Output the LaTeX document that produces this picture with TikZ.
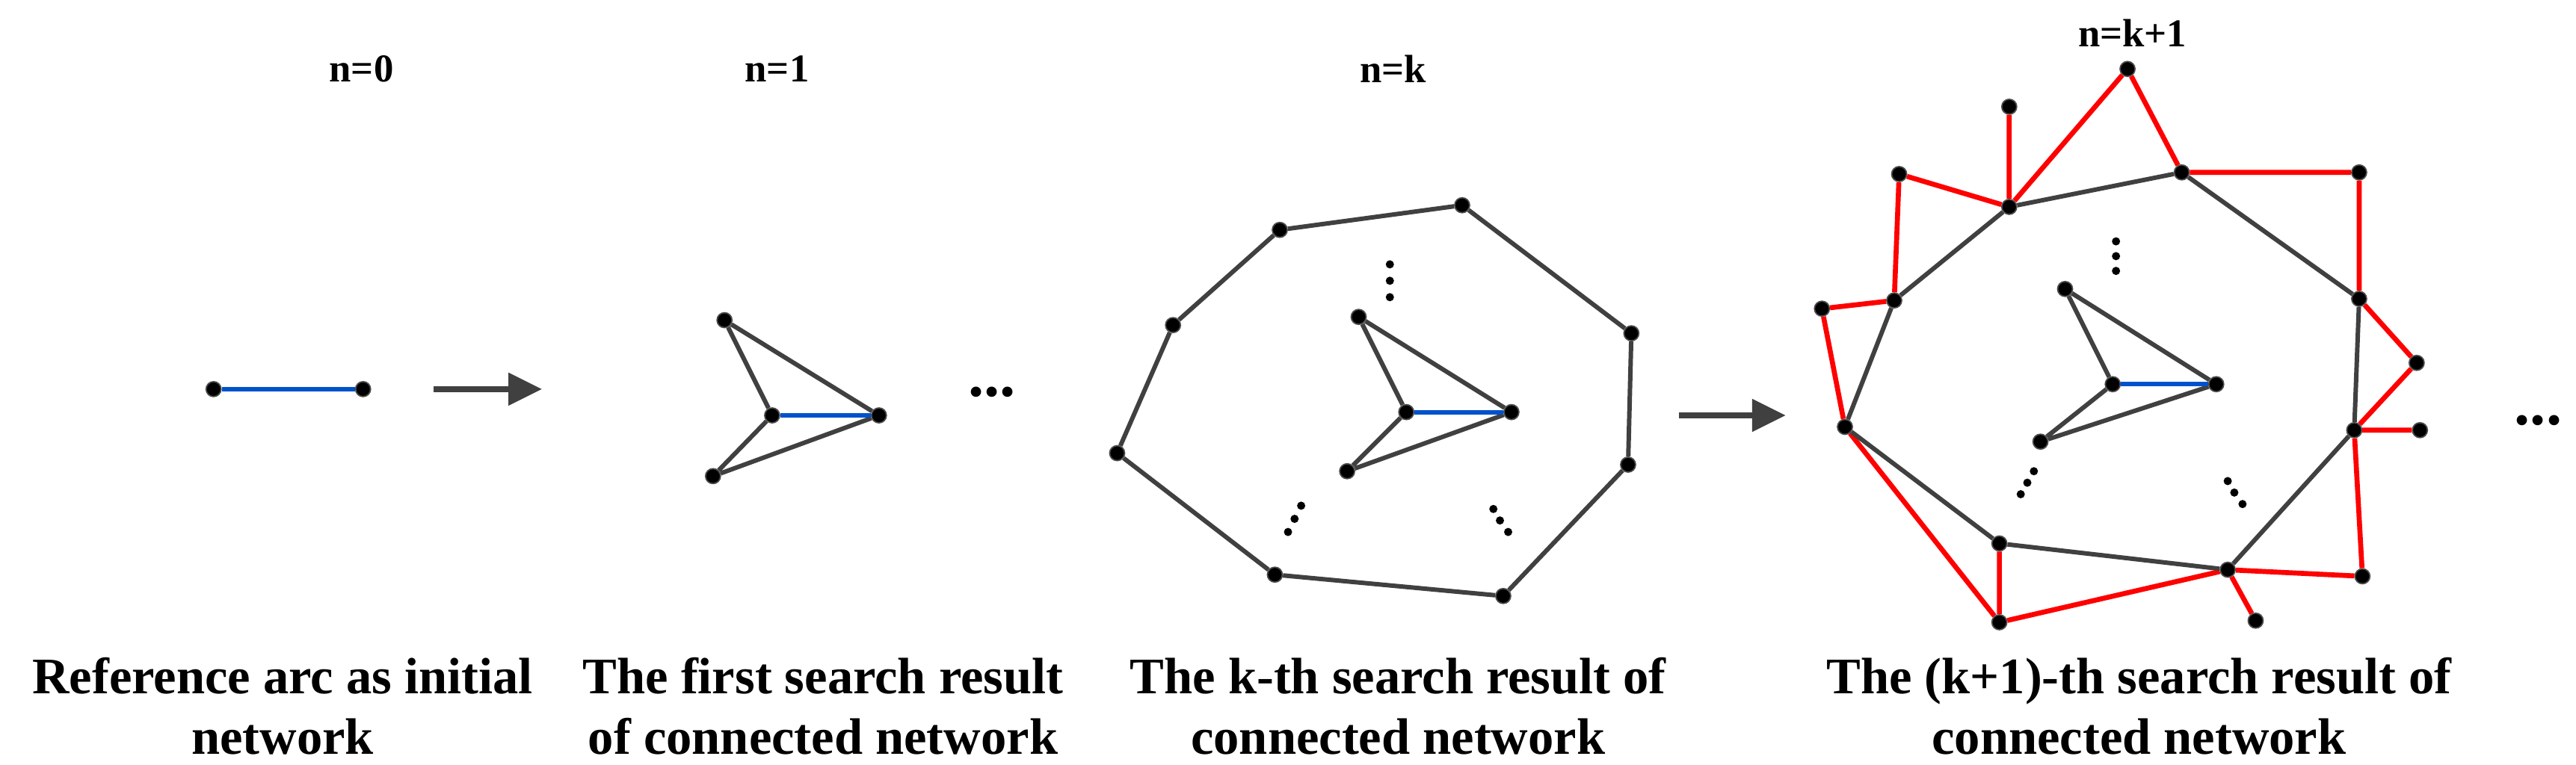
\documentclass[tikz,border=0pt]{standalone}
\usepackage{fontspec}
\setmainfont{Liberation Serif}
\usetikzlibrary{arrows.meta}
\begin{document}
\begin{tikzpicture}[x=0.021977cm,y=-0.021977cm,
  v/.style={circle,fill=black,draw=black!70,line width=0.5pt,inner sep=0pt,minimum size=0.2cm},
  g/.style={draw=black!75,line width=1.7pt},
  b/.style={draw=blue!60!cyan!80!black,line width=1.7pt},
  r/.style={draw=red,line width=1.9pt},
  d/.style={circle,fill=black,inner sep=0pt,minimum size=0.11cm},
  ttl/.style={font=\bfseries\fontsize{15}{18}\selectfont},
  lab/.style={font=\bfseries\fontsize{19.5}{23}\selectfont,align=center},
  arr/.style={draw=black!75,line width=2.4pt,-{Triangle[length=0.45cm,width=0.42cm]}}]
\useasboundingbox (0,0) rectangle (1568,465.5);
% titles
\node[ttl] (t0) at (220,42) {n=0};
\node[ttl] (t1) at (473,42) {n=1};
\node[ttl] (t2) at (848,42) {n=k};
\node[ttl] (t3) at (1298,20) {n=k+1};
% bottom labels
\node[lab] (l0) at (172,430) {Reference arc as initial\\network};
\node[lab] (l1) at (501,430) {The first search result\\of connected network};
\node[lab] (l2) at (851,430) {The k-th search result of\\connected network};
\node[lab] (l3) at (1302,430) {The (k+1)-th search result of\\connected network};
% n=0
\node[v] (a1) at (130,237) {};
\node[v] (a2) at (221,237) {};
\draw[b] (a1) -- (a2);
\coordinate (r1s) at (264,237); \coordinate (r1e) at (330,237);
\draw[arr] (r1s) -- (r1e);
% n=1
\node[v] (b1) at (441,195) {};
\node[v] (b2) at (470,253) {};
\node[v] (b3) at (535,253) {};
\node[v] (b4) at (434,290) {};
\draw[g] (b1) -- (b3) (b1) -- (b2) (b2) -- (b4) (b4) -- (b3);
\draw[b] (b2) -- (b3);
\node[font=\bfseries\fontsize{24}{24}\selectfont] (e1) at (604,239) {...};
% n=k
\node[v] (c1) at (714,198) {};
\node[v] (c2) at (779,140) {};
\node[v] (c3) at (890,125) {};
\node[v] (c4) at (993,203) {};
\node[v] (c5) at (991,283) {};
\node[v] (c6) at (915,363) {};
\node[v] (c7) at (776,350) {};
\node[v] (c8) at (680,276) {};
\draw[g] (c1)--(c2)--(c3)--(c4)--(c5)--(c6)--(c7)--(c8)--(c1);
\node[v] (ci1) at (827,193) {};
\node[v] (ci2) at (856,251) {};
\node[v] (ci3) at (920,251) {};
\node[v] (ci4) at (820,287) {};
\draw[g] (ci1) -- (ci3) (ci1) -- (ci2) (ci2) -- (ci4) (ci4) -- (ci3);
\draw[b] (ci2) -- (ci3);
\foreach \i/\x/\y in {1/846/161,2/846/171,3/846/181,4/792/308,5/788/316,6/784/324,7/909/310,8/913/317,9/918/324}
  \node[d] (dk\i) at (\x,\y) {};
\coordinate (r2s) at (1022,253); \coordinate (r2e) at (1087,253);
\draw[arr] (r2s) -- (r2e);
% n=k+1
\node[v] (p1) at (1153,183) {};
\node[v] (p2) at (1223,126) {};
\node[v] (p3) at (1328,105) {};
\node[v] (p4) at (1436,182) {};
\node[v] (p5) at (1433,262) {};
\node[v] (p6) at (1356,347) {};
\node[v] (p7) at (1217,331) {};
\node[v] (p8) at (1123,260) {};
\node[v] (pi1) at (1257,176) {};
\node[v] (pi2) at (1286,234) {};
\node[v] (pi3) at (1349,234) {};
\node[v] (pi4) at (1242,269) {};
\node[v] (q1) at (1295,42) {};
\node[v] (q2) at (1223,65) {};
\node[v] (q3) at (1156,106) {};
\node[v] (q4) at (1109,188) {};
\node[v] (q5) at (1436,105) {};
\node[v] (q6) at (1471,221) {};
\node[v] (q7) at (1473,262) {};
\node[v] (q8) at (1438,351) {};
\node[v] (q9) at (1373,378) {};
\node[v] (q10) at (1217,379) {};
\draw[r] (p2)--(q1)--(p3) (q2)--(p2) (q3)--(p2) (q3)--(p1) (p1)--(q4)--(p8)
  (p3)--(q5)--(p4)--(q6)--(p5)--(q7) (p5)--(q8)--(p6)--(q9) (p6)--(q10)--(p7) (q10)--(p8);
\draw[g] (p1)--(p2)--(p3)--(p4)--(p5)--(p6)--(p7)--(p8)--(p1);
\draw[g] (pi1) -- (pi3) (pi1) -- (pi2) (pi2) -- (pi4) (pi4) -- (pi3);
\draw[b] (pi2) -- (pi3);
\foreach \i/\x/\y in {1/1288/147,2/1288/156,3/1288/165,4/1238/287,5/1234/294,6/1230/301,7/1356/293,8/1360/300,9/1365/307}
  \node[d] (dq\i) at (\x,\y) {};
\node[font=\bfseries\fontsize{24}{24}\selectfont] (e2) at (1545,256) {...};
\end{tikzpicture}
\end{document}
